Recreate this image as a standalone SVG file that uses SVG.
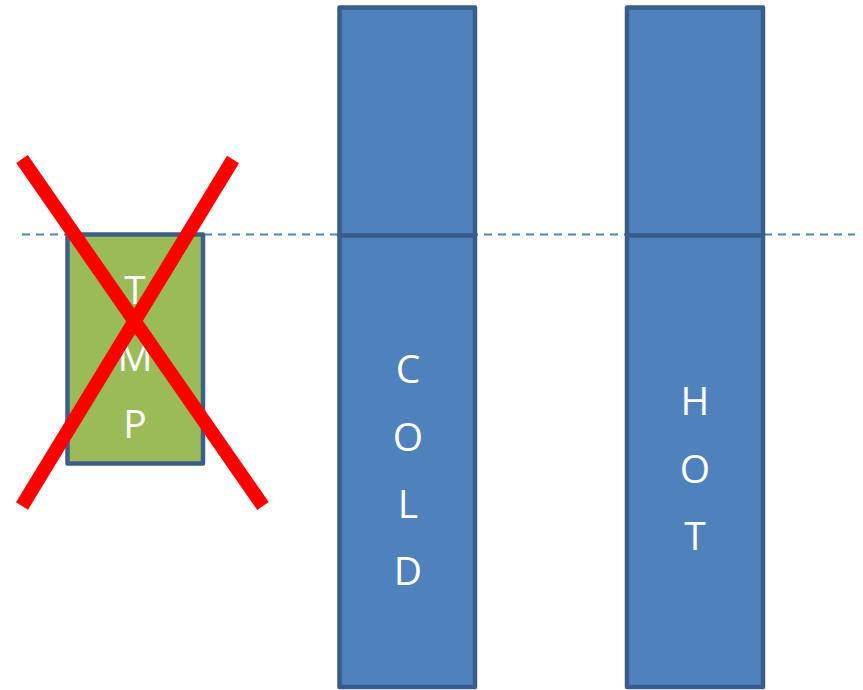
<svg xmlns="http://www.w3.org/2000/svg" width="863" height="690" viewBox="0 0 863 690">
<style>
.col{fill:#4f81bd;stroke:#385d8a;stroke-width:4.5;stroke-linejoin:round}
.tmp{fill:#9bbb59;stroke:#3c5f8a;stroke-width:4.5;stroke-linejoin:round}
.lbl{font-family:"Open Sans","Liberation Sans",sans-serif;font-size:39px;fill:#ffffff;text-anchor:middle}
.x{stroke:#ff0000;stroke-width:14;stroke-linecap:butt}
</style>
<rect width="863" height="690" fill="#ffffff"/>
<g id="connectors">
<line x1="22" y1="234.5" x2="855" y2="234.5" stroke="#4f81bd" stroke-width="2" stroke-dasharray="8 6"/>
</g>
<g id="tmp">
<rect class="tmp" x="67.5" y="234.5" width="135.5" height="229"/>
<text class="lbl" x="135" y="304">T</text>
<text class="lbl" x="135" y="371">M</text>
<text class="lbl" x="135" y="438">P</text>
</g>
<g id="cold">
<rect class="col" x="339.5" y="7.5" width="135.5" height="228"/>
<rect class="col" x="339.5" y="235.5" width="135.5" height="451.5"/>
<text class="lbl" x="408" y="383">C</text>
<text class="lbl" x="408" y="451">O</text>
<text class="lbl" x="408" y="518">L</text>
<text class="lbl" x="408" y="585">D</text>
</g>
<g id="hot">
<rect class="col" x="627" y="7.5" width="136" height="228"/>
<rect class="col" x="627" y="235.5" width="136" height="451.5"/>
<text class="lbl" x="695" y="415">H</text>
<text class="lbl" x="695" y="483">O</text>
<text class="lbl" x="695" y="550">T</text>
</g>
<g id="cross">
<line class="x" x1="22" y1="159" x2="263" y2="506"/>
<line class="x" x1="233" y1="159.5" x2="22" y2="506"/>
</g>
</svg>
